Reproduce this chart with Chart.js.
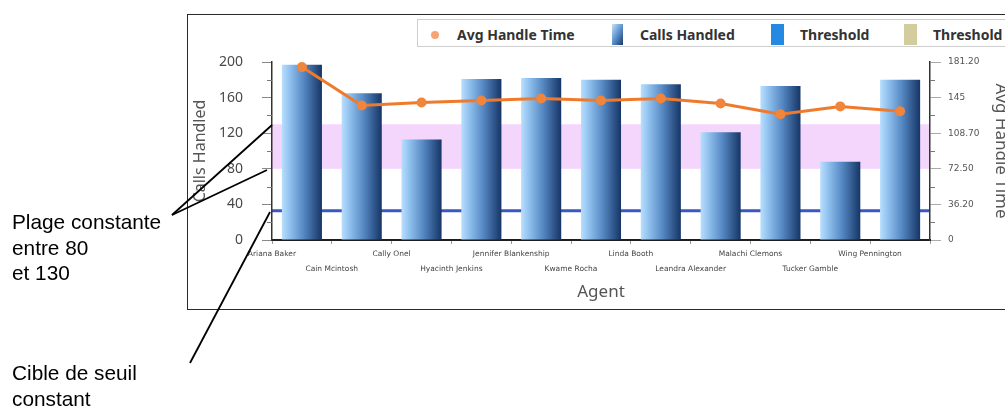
<!DOCTYPE html>
<html>
<head>
<meta charset="utf-8">
<script src="https://cdn.jsdelivr.net/npm/chart.js@4/dist/chart.umd.min.js"></script>
<style>
  html, body { margin:0; padding:0; width:1005px; height:407px; overflow:hidden; background:#fff; }
  #frame { position:absolute; left:187px; top:14px; width:840px; height:294px; border:1.5px solid #2a2a2a; box-sizing:content-box; }
  #c { position:absolute; left:0; top:0; }
  #legend { position:absolute; left:417px; top:19px; width:620px; height:26px; border:1px solid #cfcfcf; background:#fff; }
  .lg { position:absolute; font-family:'Noto Sans', sans-serif; font-weight:bold; font-size:14px; color:#333; top:24px; line-height:21px; white-space:nowrap; }
  .sw { position:absolute; top:24px; height:21px; }
  .ann { position:absolute; font-family:'Liberation Sans', Arial, sans-serif; font-size:20.8px; line-height:25.5px; color:#000; white-space:nowrap; }
  svg { position:absolute; left:0; top:0; }
</style>
</head>
<body>
<div id="frame"></div>
<canvas id="c" width="1030" height="407"></canvas>
<div id="legend"></div>
<div class="lg" style="left:457px">Avg Handle Time</div>
<div class="sw" style="left:431px; top:31px; width:8px; height:8px; border-radius:50%; background:#f5a476;"></div>
<div class="sw" style="left:612px; width:11px; background:linear-gradient(120deg,#c4e3fc 0%,#5d92cc 50%,#1a3768 100%);"></div>
<div class="lg" style="left:640px">Calls Handled</div>
<div class="sw" style="left:771px; width:13px; background:#2389e2;"></div>
<div class="lg" style="left:800px">Threshold</div>
<div class="sw" style="left:904px; width:13px; background:#d2cc9f;"></div>
<div class="lg" style="left:933px">Threshold</div>

<div class="ann" style="left:12px; top:209px">Plage constante<br>entre 80<br>et 130</div>
<div class="ann" style="left:12px; top:360px">Cible de seuil<br>constant</div>
<svg width="1005" height="407">
  <line x1="172" y1="215" x2="272" y2="125" stroke="#000" stroke-width="1.8"/>
  <line x1="172" y1="215" x2="267" y2="170" stroke="#000" stroke-width="1.8"/>
  <line x1="190" y1="363" x2="270" y2="212" stroke="#000" stroke-width="1.8"/>
</svg>

<script>
// ---- data ----
const AGENTS = ['Ariana Baker','Cain Mcintosh','Cally Onel','Hyacinth Jenkins','Jennifer Blankenship','Kwame Rocha','Linda Booth','Leandra Alexander','Malachi Clemons','Tucker Gamble','Wing Pennington'];
const CALLS_HANDLED = [197, 165, 113, 181, 182, 180, 175, 121, 173, 88, 180];
const AVG_HANDLE_TIME = [176, 137, 140, 142, 144, 142, 144, 139, 128, 136, 131];
const THRESHOLD = 33;
const BAND_RANGE = [80, 130];
const LEFT_MAX = 200;
const LEFT_STEP = 40;
const LEFT_MINOR = [20, 60, 100, 140, 180];
const RIGHT_MAX = 181.2;
const RIGHT_TICKS = [0, 36.24, 72.48, 108.72, 144.96, 181.2];
const RIGHT_TICK_LABELS = ['0', '36.20', '72.50', '108.70', '145', '181.20'];

const xLabels = AGENTS.map((n, i) => i % 2 === 0 ? [n, ''] : ['', n]);

const decorPlugin = {
  id: 'decor',
  beforeDraw(chart) {
    const { ctx, chartArea: a, scales: { y } } = chart;
    const yTop = y.getPixelForValue(BAND_RANGE[1]);
    const yBot = y.getPixelForValue(BAND_RANGE[0]);
    ctx.save();
    ctx.fillStyle = '#f4d5fb';
    ctx.fillRect(a.left, yTop, a.right - a.left, yBot - yTop);
    const ty = y.getPixelForValue(THRESHOLD);
    ctx.strokeStyle = '#3a57c3';
    ctx.lineWidth = 3;
    ctx.beginPath();
    ctx.moveTo(a.left, ty);
    ctx.lineTo(a.right, ty);
    ctx.stroke();
    ctx.restore();
  },
  beforeDatasetsDraw(chart) {
    const meta = chart.getDatasetMeta(1);
    const ctx = chart.ctx;
    meta.data.forEach(el => {
      const x0 = el.x - el.width / 2, x1 = el.x + el.width / 2;
      const g = ctx.createLinearGradient(x0, 0, x1, 0);
      g.addColorStop(0, '#b9defd');
      g.addColorStop(0.18, '#93c4f0');
      g.addColorStop(0.55, '#5587c2');
      g.addColorStop(1, '#163566');
      el.options = Object.assign({}, el.options, { backgroundColor: g });
    });
  },
  afterDraw(chart) {
    const { ctx, chartArea: a, scales: { y, y1 } } = chart;
    ctx.save();
    ctx.strokeStyle = '#777';
    ctx.lineWidth = 1;
    LEFT_MINOR.forEach(v => {
      const p = Math.round(y.getPixelForValue(v)) + 0.5;
      ctx.beginPath(); ctx.moveTo(a.left - 5, p); ctx.lineTo(a.left, p); ctx.stroke();
    });
    for (let i = 0; i < RIGHT_TICKS.length - 1; i++) {
      const p = Math.round(y1.getPixelForValue((RIGHT_TICKS[i] + RIGHT_TICKS[i + 1]) / 2)) + 0.5;
      ctx.beginPath(); ctx.moveTo(a.right, p); ctx.lineTo(a.right + 5, p); ctx.stroke();
    }
    ctx.restore();
  }
};

new Chart(document.getElementById('c'), {
  type: 'bar',
  data: {
    labels: xLabels,
    datasets: [
      {
        type: 'line',
        label: 'Avg Handle Time',
        data: AVG_HANDLE_TIME,
        yAxisID: 'y1',
        borderColor: '#f07a2b',
        backgroundColor: '#f07a2b',
        borderWidth: 3,
        pointRadius: 5,
        pointBackgroundColor: '#f2853c',
        pointBorderWidth: 0,
        tension: 0,
        order: 0
      },
      {
        type: 'bar',
        label: 'Calls Handled',
        data: CALLS_HANDLED,
        yAxisID: 'y',
        backgroundColor: '#4f82bd',
        categoryPercentage: 1.0,
        barPercentage: 0.67,
        order: 1
      }
    ]
  },
  options: {
    responsive: false,
    animation: false,
    layout: { padding: { left: 187, right: 0, top: 62, bottom: 97 } },
    plugins: { legend: { display: false }, tooltip: { enabled: false } },
    scales: {
      x: {
        offset: true,
        grid: { display: true, drawOnChartArea: false, offset: true, tickLength: 4, color: '#999' },
        border: { color: '#1e1e1e', width: 2 },
        ticks: {
          font: { family: 'DejaVu Sans', size: 7.5, lineHeight: '15px' },
          color: '#444', padding: 3, labelOffset: -30, autoSkip: false, maxRotation: 0, minRotation: 0
        },
        title: { display: true, text: 'Agent', font: { family: 'Noto Sans', size: 17 }, color: '#555', padding: { top: 0, bottom: 8 } },
        afterFit: s => { s.height = 70; }
      },
      y: {
        position: 'left',
        min: 0, max: LEFT_MAX,
        ticks: { stepSize: LEFT_STEP, font: { family: 'Noto Sans', size: 14 }, color: '#4a4a4a', padding: 19 },
        grid: { drawOnChartArea: false, tickLength: 10, color: '#888' },
        border: { color: '#333', width: 1.5 },
        title: { display: true, text: 'Calls Handled', font: { family: 'Noto Sans', size: 16 }, color: '#555', padding: { top: 3.4, bottom: 0 } },
        afterFit: s => { s.width = 85; }
      },
      y1: {
        position: 'right',
        min: 0, max: RIGHT_MAX,
        afterBuildTicks: s => { s.ticks = RIGHT_TICKS.map(v => ({ value: v })); },
        ticks: { callback: (v, i) => RIGHT_TICK_LABELS[i], font: { family: 'DejaVu Sans', size: 9 }, color: '#555', padding: 7 },
        grid: { drawOnChartArea: false, tickLength: 11, color: '#aaa' },
        border: { color: '#333', width: 1.5 },
        title: { display: true, text: 'Avg Handle Time', font: { family: 'Noto Sans', size: 17 }, color: '#555', padding: { top: 19, bottom: 0 } },
        afterFit: s => { s.width = 100; }
      }
    }
  },
  plugins: [decorPlugin]
});
</script>
</body>
</html>
